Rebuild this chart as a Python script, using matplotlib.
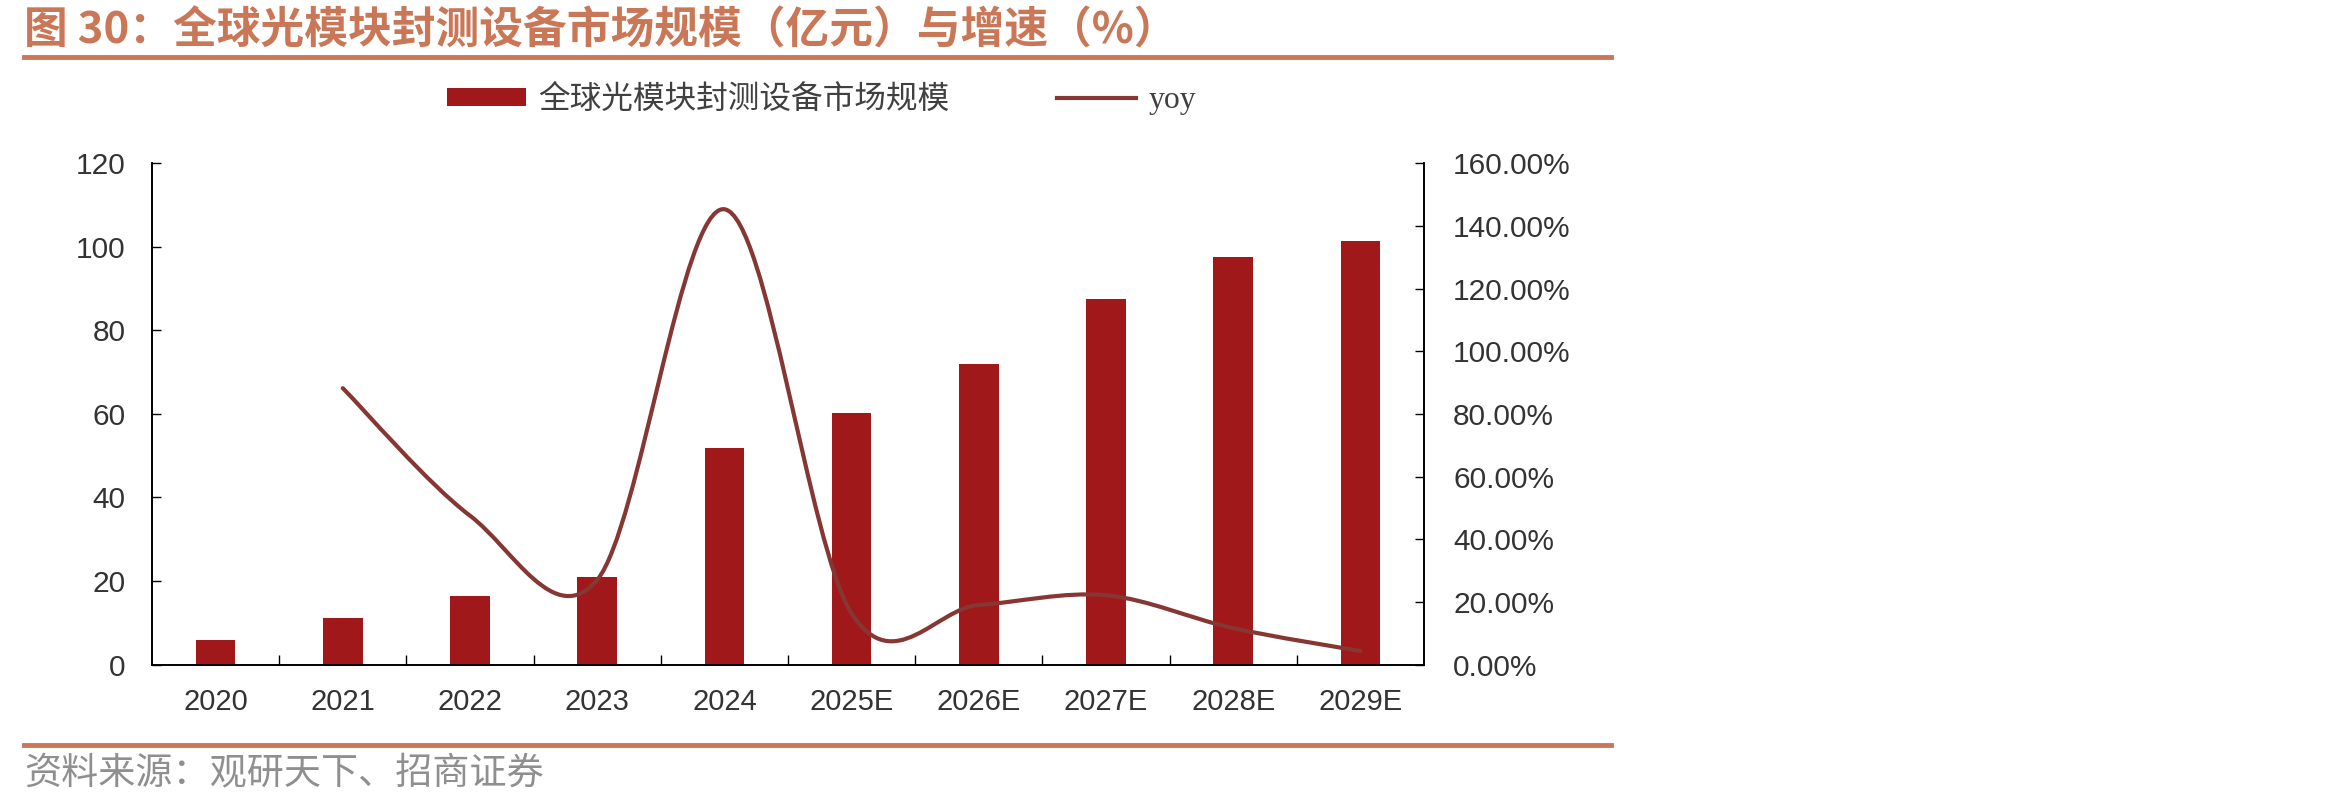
import matplotlib
matplotlib.use("Agg")
import matplotlib.pyplot as plt
from matplotlib.path import Path
from matplotlib.patches import PathPatch, Patch
from matplotlib.lines import Line2D
import numpy as np

plt.rcParams['font.family'] = ['Liberation Sans', 'Noto Sans CJK SC', 'DejaVu Sans']

years = ['2020', '2021', '2022', '2023', '2024', '2025E', '2026E', '2027E', '2028E', '2029E']
market = [5.9, 11.2, 16.4, 21.0, 51.9, 60.3, 72.0, 87.5, 97.5, 101.4]
yoy = [None, 88.2, 47.5, 27.0, 145.3, 16.3, 19.0, 22.1, 11.6, 4.3]

title = '图 30：全球光模块封测设备市场规模（亿元）与增速（%）'
source = '资料来源：观研天下、招商证券'
bar_label = '全球光模块封测设备市场规模'
line_label = 'yoy'

bar_color = '#A0181A'
line_color = '#863733'
accent = '#C97757'
tick_color = '#333333'

fig = plt.figure(figsize=(23.5, 8.05), dpi=100)
ax = fig.add_axes([152 / 2350, 1 - 664.5 / 805, (1424 - 152) / 2350, (664.5 - 163.2) / 805])
ax2 = ax.twinx()

x = np.arange(len(years))
ax.bar(x, market, width=0.31, color=bar_color, zorder=2)

# smoothed yoy line (Excel style bezier through the data points)
pts = [(xi, v) for xi, v in zip(x, yoy) if v is not None]
verts = [pts[0]]
codes = [Path.MOVETO]
for i in range(len(pts) - 1):
    p0 = pts[i - 1] if i > 0 else pts[i]
    p1 = pts[i]
    p2 = pts[i + 1]
    p3 = pts[i + 2] if i + 2 < len(pts) else pts[i + 1]
    c1 = (p1[0] + (p2[0] - p0[0]) / 6, p1[1] + (p2[1] - p0[1]) / 6)
    c2 = (p2[0] - (p3[0] - p1[0]) / 6, p2[1] - (p3[1] - p1[1]) / 6)
    verts += [c1, c2, p2]
    codes += [Path.CURVE4] * 3
ax2.add_patch(PathPatch(Path(verts, codes), fill=False, edgecolor=line_color,
                        linewidth=3.0, capstyle='round', zorder=3))

ax.set_xlim(-0.5, len(years) - 0.5)
ax.set_ylim(0, 120)
ax.set_yticks(range(0, 121, 20))
ax2.set_ylim(0, 160)
ax2.set_yticks(range(0, 161, 20))
ax2.set_yticklabels([f'{v:.2f}%' for v in range(0, 161, 20)])

ax.set_xticks(x)
ax.set_xticklabels(years)
ax.set_xticks(np.arange(0.5, len(years) - 1, 1), minor=True)
ax.tick_params(axis='x', which='major', length=0, pad=17, labelsize=21, labelcolor=tick_color)
ax.tick_params(axis='x', which='minor', direction='in', length=7, width=1.0)
ax.tick_params(axis='y', direction='in', length=6.5, width=1.0, pad=19, labelsize=21.5, labelcolor=tick_color)
ax2.tick_params(axis='y', direction='in', length=6.5, width=1.0, pad=21, labelsize=21.5, labelcolor=tick_color)

for a in (ax, ax2):
    a.spines['top'].set_visible(False)
    for s in ('left', 'right', 'bottom'):
        a.spines[s].set_linewidth(1.2)
        a.spines[s].set_color('black')

# title, rules and source
fig.text(24 / 2350, 1 - 31 / 805, title, fontsize=31.5, fontweight='bold', color=accent,
         family=['Noto Sans CJK SC', 'DejaVu Sans'], va='center', ha='left')
fig.add_artist(Line2D([24 / 2350, 1611 / 2350], [1 - 57 / 805] * 2, color=accent, linewidth=3.5))
fig.add_artist(Line2D([24 / 2350, 1611 / 2350], [1 - 745 / 805] * 2, color=accent, linewidth=3.5))
fig.text(24 / 2350, 1 - 773 / 805, source, fontsize=26.7, color='#8F8F8F',
         family=['Noto Sans CJK SC', 'DejaVu Sans'], va='center', ha='left')

handles = [Patch(facecolor=bar_color), Line2D([0], [0], color=line_color, linewidth=3.0)]
leg = fig.legend(handles, [bar_label, line_label], loc='center left',
                 bbox_to_anchor=(447 / 2350, 1 - 99 / 805), ncol=2, frameon=False,
                 borderpad=0, borderaxespad=0, handlelength=2.5, handleheight=0.5,
                 handletextpad=0.38, columnspacing=3.4,
                 prop={'family': ['Noto Sans CJK SC', 'DejaVu Sans'], 'size': 22.8})
for t in leg.get_texts():
    t.set_color('#404040')
leg.get_texts()[1].set_fontfamily('Liberation Serif')

fig.savefig('out.png', dpi=100)
